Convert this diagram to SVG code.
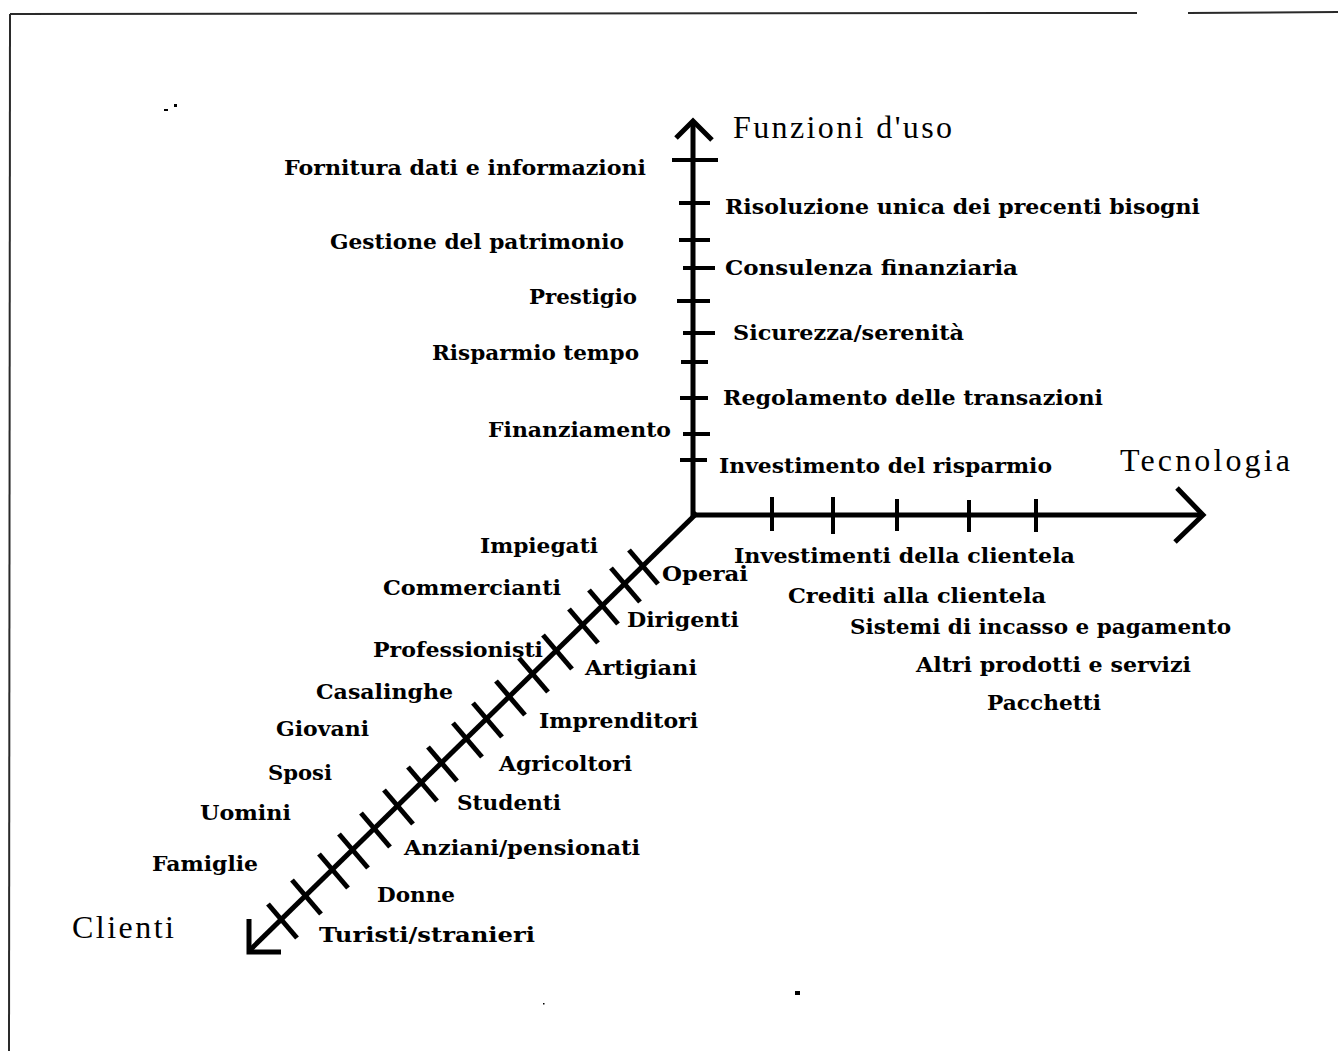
<svg xmlns="http://www.w3.org/2000/svg" width="1338" height="1051" viewBox="0 0 1338 1051">
  <style>
    .frame { stroke: #2a2a2a; stroke-width: 2; fill: none; }
    .axis { stroke: #000; stroke-width: 5; fill: none; stroke-linecap: butt; }
    .head { stroke: #000; stroke-width: 5; fill: none; stroke-linejoin: miter; }
    .tick { stroke: #000; stroke-width: 4; }
    .xtick { stroke: #000; stroke-width: 5; }
    .lbl { font-family: "DejaVu Serif", "Liberation Serif", serif; font-weight: bold; font-size: 21px; fill: #000; }
    .ttl { font-family: "Liberation Serif", "Times New Roman", serif; font-size: 32px; fill: #000; }
  </style>

  <rect width="1338" height="1051" fill="#fff"/>

  <!-- page frame -->
  <g id="frame">
    <line class="frame" x1="10" y1="14" x2="1137" y2="13"/>
    <line class="frame" x1="1188" y1="13" x2="1338" y2="12"/>
    <line class="frame" x1="10" y1="14" x2="9" y2="1051" stroke-width="1.5"/>
  </g>

  <!-- axes, ticks and arrowheads -->
  <g id="connectors">
    <!-- vertical axis: Funzioni d'uso -->
    <line class="axis" x1="693" y1="517" x2="693" y2="123"/>
    <polyline class="head" points="676,138 693,121 712,140"/>
    <line class="tick" x1="672" y1="160" x2="718" y2="160"/>
    <line class="tick" x1="679" y1="203" x2="710" y2="203"/>
    <line class="tick" x1="679" y1="240" x2="710" y2="240"/>
    <line class="tick" x1="683" y1="268" x2="715" y2="268"/>
    <line class="tick" x1="677" y1="301" x2="710" y2="301"/>
    <line class="tick" x1="683" y1="333" x2="715" y2="333"/>
    <line class="tick" x1="681" y1="362" x2="708" y2="362"/>
    <line class="tick" x1="680" y1="398" x2="708" y2="398"/>
    <line class="tick" x1="683" y1="434" x2="710" y2="434"/>
    <line class="tick" x1="680" y1="460" x2="707" y2="460"/>

    <!-- horizontal axis: Tecnologia -->
    <line class="axis" x1="691" y1="515" x2="1203" y2="515"/>
    <polyline class="head" points="1177,488 1203,515 1175,542"/>
    <line class="tick" x1="772" y1="497" x2="772" y2="531"/>
    <line class="tick" x1="833" y1="497" x2="833" y2="534"/>
    <line class="tick" x1="897" y1="499" x2="897" y2="531"/>
    <line class="tick" x1="969" y1="500" x2="969" y2="532"/>
    <line class="tick" x1="1036" y1="499" x2="1036" y2="532"/>

    <!-- diagonal axis: Clienti -->
    <line class="axis" x1="697" y1="513" x2="250" y2="950" stroke-width="6"/>
    <polyline class="head" points="249,919 249,952 281,952"/>
    <g class="xtick">
      <line x1="629" y1="550" x2="658" y2="584"/>
      <line x1="611" y1="568" x2="640" y2="602"/>
      <line x1="589" y1="590" x2="618" y2="624"/>
      <line x1="569" y1="609" x2="598" y2="643"/>
      <line x1="543" y1="635" x2="572" y2="669"/>
      <line x1="519" y1="658" x2="548" y2="692"/>
      <line x1="496" y1="681" x2="525" y2="715"/>
      <line x1="473" y1="703" x2="502" y2="737"/>
      <line x1="453" y1="723" x2="482" y2="757"/>
      <line x1="428" y1="747" x2="457" y2="781"/>
      <line x1="408" y1="767" x2="437" y2="801"/>
      <line x1="384" y1="790" x2="413" y2="824"/>
      <line x1="361" y1="813" x2="390" y2="847"/>
      <line x1="339" y1="834" x2="368" y2="868"/>
      <line x1="319" y1="854" x2="348" y2="888"/>
      <line x1="292" y1="880" x2="321" y2="914"/>
      <line x1="268" y1="904" x2="297" y2="938"/>
    </g>
  </g>

  <!-- axis titles -->
  <g id="title-funzioni"><text class="ttl" x="733" y="138" textLength="219" lengthAdjust="spacing">Funzioni d'uso</text></g>
  <g id="title-tecnologia"><text class="ttl" x="1120" y="471" textLength="170" lengthAdjust="spacing">Tecnologia</text></g>
  <g id="title-clienti"><text class="ttl" x="72" y="938" textLength="102" lengthAdjust="spacing">Clienti</text></g>

  <!-- usage functions, left of the vertical axis -->
  <g id="f-fornitura"><text class="lbl" x="284" y="175" textLength="362" lengthAdjust="spacingAndGlyphs">Fornitura dati e informazioni</text></g>
  <g id="f-gestione"><text class="lbl" x="330" y="249" textLength="294" lengthAdjust="spacingAndGlyphs">Gestione del patrimonio</text></g>
  <g id="f-prestigio"><text class="lbl" x="529" y="304" textLength="108" lengthAdjust="spacingAndGlyphs">Prestigio</text></g>
  <g id="f-risparmio-tempo"><text class="lbl" x="432" y="360" textLength="207" lengthAdjust="spacingAndGlyphs">Risparmio tempo</text></g>
  <g id="f-finanziamento"><text class="lbl" x="488" y="437" textLength="183" lengthAdjust="spacingAndGlyphs">Finanziamento</text></g>

  <!-- usage functions, right of the vertical axis -->
  <g id="f-risoluzione"><text class="lbl" x="725" y="214" textLength="475" lengthAdjust="spacingAndGlyphs">Risoluzione unica dei precenti bisogni</text></g>
  <g id="f-consulenza"><text class="lbl" x="725" y="275" textLength="293" lengthAdjust="spacingAndGlyphs">Consulenza finanziaria</text></g>
  <g id="f-sicurezza"><text class="lbl" x="733" y="340" textLength="231" lengthAdjust="spacingAndGlyphs">Sicurezza/serenità</text></g>
  <g id="f-regolamento"><text class="lbl" x="723" y="405" textLength="380" lengthAdjust="spacingAndGlyphs">Regolamento delle transazioni</text></g>
  <g id="f-investimento"><text class="lbl" x="719" y="473" textLength="333" lengthAdjust="spacingAndGlyphs">Investimento del risparmio</text></g>

  <!-- technologies -->
  <g id="t-investimenti"><text class="lbl" x="734" y="563" textLength="341" lengthAdjust="spacingAndGlyphs">Investimenti della clientela</text></g>
  <g id="t-crediti"><text class="lbl" x="788" y="603" textLength="258" lengthAdjust="spacingAndGlyphs">Crediti alla clientela</text></g>
  <g id="t-sistemi"><text class="lbl" x="850" y="634" textLength="381" lengthAdjust="spacingAndGlyphs">Sistemi di incasso e pagamento</text></g>
  <g id="t-altri"><text class="lbl" x="916" y="672" textLength="275" lengthAdjust="spacingAndGlyphs">Altri prodotti e servizi</text></g>
  <g id="t-pacchetti"><text class="lbl" x="987" y="710" textLength="114" lengthAdjust="spacingAndGlyphs">Pacchetti</text></g>

  <!-- customer groups, left of the diagonal -->
  <g id="c-impiegati"><text class="lbl" x="480" y="553" textLength="118" lengthAdjust="spacingAndGlyphs">Impiegati</text></g>
  <g id="c-commercianti"><text class="lbl" x="383" y="595" textLength="178" lengthAdjust="spacingAndGlyphs">Commercianti</text></g>
  <g id="c-professionisti"><text class="lbl" x="373" y="657" textLength="170" lengthAdjust="spacingAndGlyphs">Professionisti</text></g>
  <g id="c-casalinghe"><text class="lbl" x="316" y="699" textLength="137" lengthAdjust="spacingAndGlyphs">Casalinghe</text></g>
  <g id="c-giovani"><text class="lbl" x="276" y="736" textLength="93" lengthAdjust="spacingAndGlyphs">Giovani</text></g>
  <g id="c-sposi"><text class="lbl" x="268" y="780" textLength="64" lengthAdjust="spacingAndGlyphs">Sposi</text></g>
  <g id="c-uomini"><text class="lbl" x="200" y="820" textLength="91" lengthAdjust="spacingAndGlyphs">Uomini</text></g>
  <g id="c-famiglie"><text class="lbl" x="152" y="871" textLength="106" lengthAdjust="spacingAndGlyphs">Famiglie</text></g>

  <!-- customer groups, right of the diagonal -->
  <g id="c-operai"><text class="lbl" x="662" y="581" textLength="86" lengthAdjust="spacingAndGlyphs">Operai</text></g>
  <g id="c-dirigenti"><text class="lbl" x="627" y="627" textLength="112" lengthAdjust="spacingAndGlyphs">Dirigenti</text></g>
  <g id="c-artigiani"><text class="lbl" x="585" y="675" textLength="112" lengthAdjust="spacingAndGlyphs">Artigiani</text></g>
  <g id="c-imprenditori"><text class="lbl" x="539" y="728" textLength="159" lengthAdjust="spacingAndGlyphs">Imprenditori</text></g>
  <g id="c-agricoltori"><text class="lbl" x="499" y="771" textLength="133" lengthAdjust="spacingAndGlyphs">Agricoltori</text></g>
  <g id="c-studenti"><text class="lbl" x="457" y="810" textLength="104" lengthAdjust="spacingAndGlyphs">Studenti</text></g>
  <g id="c-anziani"><text class="lbl" x="404" y="855" textLength="236" lengthAdjust="spacingAndGlyphs">Anziani/pensionati</text></g>
  <g id="c-donne"><text class="lbl" x="377" y="902" textLength="78" lengthAdjust="spacingAndGlyphs">Donne</text></g>
  <g id="c-turisti"><text class="lbl" x="319" y="942" font-size="24" textLength="216" lengthAdjust="spacingAndGlyphs">Turisti/stranieri</text></g>

  <!-- stray specks -->
  <g id="specks" fill="#000">
    <rect x="164" y="109" width="4" height="2"/>
    <rect x="174" y="104" width="3" height="3"/>
    <rect x="795" y="991" width="5" height="4"/>
    <rect x="543" y="1003" width="1.5" height="1.5"/>
  </g>
</svg>
